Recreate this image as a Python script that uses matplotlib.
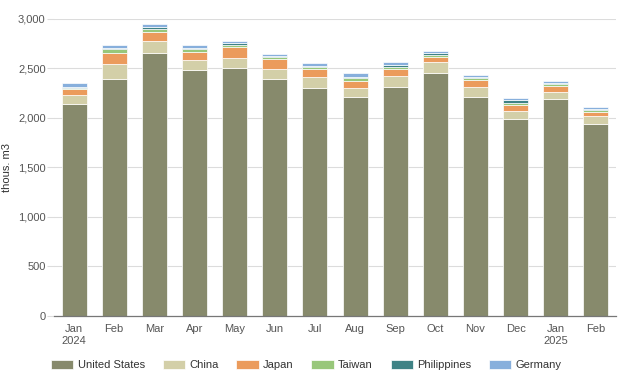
import numpy as np
import matplotlib.pyplot as plt
from matplotlib.ticker import FuncFormatter

plt.rcParams['font.family'] = ['Liberation Sans', 'DejaVu Sans']

months = ["Jan\n2024", "Feb", "Mar", "Apr", "May", "Jun", "Jul", "Aug",
          "Sep", "Oct", "Nov", "Dec", "Jan\n2025", "Feb"]

united_states = [2134, 2386, 2648, 2480, 2497, 2386, 2295, 2205, 2305, 2446, 2205, 1983, 2184, 1932]
china = [94, 154, 124, 100, 107, 101, 118, 90, 114, 111, 107, 84, 77, 84]
japan = [60, 108, 87, 83, 105, 101, 74, 74, 71, 51, 67, 60, 57, 43]
taiwan = [15, 40, 35, 25, 23, 20, 27, 27, 23, 23, 17, 23, 20, 17]
philippines = [10, 10, 20, 10, 17, 13, 10, 17, 17, 17, 17, 27, 13, 10]
germany = [36, 35, 26, 35, 26, 20, 23, 33, 27, 27, 13, 23, 20, 23]

series = [
    ("United States", united_states, "#878a6c"),
    ("China", china, "#d3cfa8"),
    ("Japan", japan, "#eb9b5c"),
    ("Taiwan", taiwan, "#98c77a"),
    ("Philippines", philippines, "#3e8285"),
    ("Germany", germany, "#87afdc"),
]

fig = plt.figure(figsize=(6.24, 3.8), dpi=100)
ax = fig.add_axes([54 / 624, 1 - 316 / 380, 562 / 624, 297.5 / 380])

x = np.arange(len(months))
bottom = np.zeros(len(months))
for name, vals, color in series:
    vals = np.array(vals, dtype=float)
    ax.bar(x, vals, bottom=bottom, width=0.62, color=color, label=name,
           edgecolor="white", linewidth=0.5, zorder=3)
    bottom += vals

ax.set_xlim(-0.5, len(months) - 0.5)
ax.set_ylim(0, 3000)
ax.set_yticks(np.arange(0, 3001, 500))
ax.yaxis.set_major_formatter(FuncFormatter(lambda v, p: f"{int(v):,}"))
ax.set_xticks(x)
ax.set_xticklabels(months)

ax.grid(axis="y", color="#dcdcdc", linewidth=0.8, zorder=0)
for s in ["top", "right", "left"]:
    ax.spines[s].set_visible(False)
ax.spines["bottom"].set_color("#777777")
ax.spines["bottom"].set_linewidth(0.9)
ax.spines["bottom"].set_zorder(4)

ax.tick_params(axis="y", length=5, color="#dcdcdc", labelsize=8, labelcolor="#555555", pad=1)
ax.tick_params(axis="x", length=0, labelsize=8, labelcolor="#555555", pad=6)
ax.set_ylabel("thous. m3", fontsize=8, color="#333333")
ax.yaxis.set_label_coords((12 - 54) / 562, 0.5)

fig.legend(loc="center left", bbox_to_anchor=(51 / 624, 1 - 365 / 380), ncol=6,
           frameon=False, fontsize=8, handlelength=2.0, handleheight=0.9,
           handletextpad=0.4, columnspacing=1.6, borderpad=0, borderaxespad=0,
           labelcolor="#333333")

fig.savefig("out.png", dpi=100)
